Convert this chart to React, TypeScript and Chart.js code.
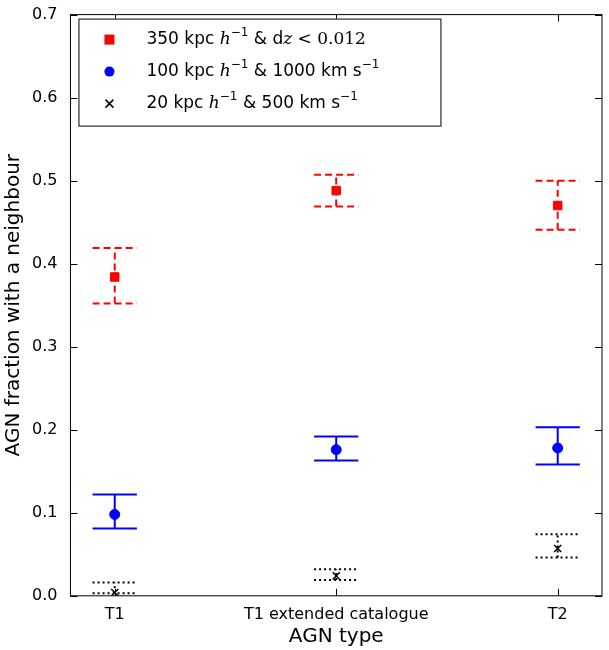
import { useEffect, useRef } from "react"
import { Chart, registerables } from "chart.js"

Chart.register(...registerables)

const categories = ["T1", "T1 extended catalogue", "T2"]
const redY = [0.384, 0.488, 0.47]
const redLo = [0.352, 0.469, 0.441]
const redHi = [0.419, 0.507, 0.5]
const blueY = [0.098, 0.176, 0.178]
const blueLo = [0.081, 0.163, 0.158]
const blueHi = [0.122, 0.192, 0.203]
const blackY = [0.004, 0.024, 0.057]
const blackLo = [0.003, 0.019, 0.046]
const blackHi = [0.016, 0.032, 0.074]
const yTicks = [0, 0.1, 0.2, 0.3, 0.4, 0.5, 0.6, 0.7]

const FONT = "'DejaVu Sans', sans-serif"

type Err = { lo: number[]; hi: number[]; color: string; dash: number[] }
const errs: Err[] = [
  { lo: redLo, hi: redHi, color: "#ff0000", dash: [7, 4] },
  { lo: blueLo, hi: blueHi, color: "#0000ff", dash: [] },
  { lo: blackLo, hi: blackHi, color: "#000000", dash: [2, 3] },
]

const framePlugin = {
  id: "frame",
  beforeDatasetsDraw(chart: any) {
    const { ctx, scales } = chart
    const xs = scales.x
    const ys = scales.y
    ctx.save()
    errs.forEach((e) => {
      ctx.strokeStyle = e.color
      ctx.lineWidth = 2
      ctx.setLineDash(e.dash)
      e.lo.forEach((lo, i) => {
        const x = xs.getPixelForValue(i)
        const y1 = ys.getPixelForValue(lo)
        const y2 = ys.getPixelForValue(e.hi[i])
        const hw = xs.getPixelForValue(i + 0.1) - x
        ctx.beginPath()
        ctx.moveTo(x, y1)
        ctx.lineTo(x, y2)
        ctx.moveTo(x - hw, y1)
        ctx.lineTo(x + hw, y1)
        ctx.moveTo(x - hw, y2)
        ctx.lineTo(x + hw, y2)
        ctx.stroke()
      })
    })
    ctx.restore()
  },
  afterDraw(chart: any) {
    const { ctx, chartArea: a, scales } = chart
    ctx.save()
    ctx.strokeStyle = "#000"
    ctx.lineWidth = 1
    ctx.setLineDash([])
    ctx.strokeRect(a.left, a.top, a.right - a.left, a.bottom - a.top)
    ctx.beginPath()
    yTicks.forEach((t) => {
      const y = Math.round(scales.y.getPixelForValue(t)) + 0.5
      ctx.moveTo(a.left, y)
      ctx.lineTo(a.left + 7, y)
      ctx.moveTo(a.right, y)
      ctx.lineTo(a.right - 7, y)
    })
    categories.forEach((_, i) => {
      const x = Math.round(scales.x.getPixelForValue(i)) + 0.5
      ctx.moveTo(x, a.bottom)
      ctx.lineTo(x, a.bottom - 7)
      ctx.moveTo(x, a.top)
      ctx.lineTo(x, a.top + 7)
    })
    ctx.stroke()

    // legend
    const lx = a.left + 8
    const ly = a.top + 4
    ctx.fillStyle = "#fff"
    ctx.fillRect(lx, ly, 362, 107)
    ctx.strokeRect(lx + 0.5, ly + 0.5, 362, 107)
    const rows = [
      ["350 kpc ", "h", "\u22121", " & d", "z", " < 0.012"],
      ["100 kpc ", "h", "\u22121", " & 1000 km s", "", "\u22121"],
      ["20 kpc ", "h", "\u22121", " & 500 km s", "", "\u22121"],
    ]
    rows.forEach((r, k) => {
      const cy = ly + 21 + k * 32
      const mx = lx + 31
      if (k === 0) {
        ctx.fillStyle = "#ff0000"
        ctx.fillRect(mx - 5, cy - 5, 10, 10)
      } else if (k === 1) {
        ctx.fillStyle = "#0000ff"
        ctx.beginPath()
        ctx.arc(mx, cy, 5, 0, Math.PI * 2)
        ctx.fill()
      } else {
        ctx.strokeStyle = "#000"
        ctx.lineWidth = 1.5
        ctx.beginPath()
        ctx.moveTo(mx - 4, cy - 4)
        ctx.lineTo(mx + 4, cy + 4)
        ctx.moveTo(mx + 4, cy - 4)
        ctx.lineTo(mx - 4, cy + 4)
        ctx.stroke()
      }
      ctx.fillStyle = "#000"
      ctx.textBaseline = "middle"
      let x = lx + 68
      const put = (s: string, f: string, dy = 0) => {
        ctx.font = f
        ctx.fillText(s, x, cy + dy)
        x += ctx.measureText(s).width
      }
      put(r[0], `17px ${FONT}`)
      put(r[1], `italic 17px 'DejaVu Serif', serif`)
      put(r[2], `12px ${FONT}`, -7)
      put(r[3], `17px ${FONT}`)
      if (r[4]) put(r[4], `italic 17px 'DejaVu Serif', serif`)
      if (k === 0) put(r[5], `17px 'DejaVu Serif', serif`)
      else put(r[5], `12px ${FONT}`, -7)
    })
    ctx.restore()
  },
}

export default function App() {
  const ref = useRef<HTMLCanvasElement>(null)

  useEffect(() => {
    document.body.style.margin = "0"
    if (!ref.current) return
    const pts = (ys: number[]) => ys.map((y, i) => ({ x: i, y }))
    const chart = new Chart(ref.current, {
      type: "scatter",
      data: {
        datasets: [
          { data: pts(redY), backgroundColor: "#ff0000", borderColor: "#ff0000", pointStyle: "rect", pointRadius: 6 },
          { data: pts(blueY), backgroundColor: "#0000ff", borderColor: "#0000ff", pointStyle: "circle", pointRadius: 5 },
          { data: pts(blackY), backgroundColor: "#000", borderColor: "#000", pointStyle: "crossRot", pointRadius: 5, borderWidth: 1.5 },
        ],
      },
      options: {
        responsive: false,
        animation: false,
        layout: { padding: { top: 8, right: 5, left: 0, bottom: 0 } },
        plugins: { legend: { display: false }, tooltip: { enabled: false } },
        scales: {
          x: {
            type: "linear",
            min: -0.2,
            max: 2.2,
            grid: { display: false },
            border: { display: false },
            afterBuildTicks: (s: any) => {
              s.ticks = categories.map((_, i) => ({ value: i }))
            },
            ticks: {
              color: "#000",
              font: { family: FONT, size: 16 },
              padding: 1,
              callback: (v: any) => categories[v as number] ?? "",
            },
            title: { display: true, text: "AGN type", color: "#000", font: { family: FONT, size: 20 }, padding: { top: 0, bottom: 1 } },
          },
          y: {
            min: 0,
            max: 0.7,
            grid: { display: false },
            border: { display: false },
            afterBuildTicks: (s: any) => {
              s.ticks = yTicks.map((v) => ({ value: v }))
            },
            ticks: {
              color: "#000",
              font: { family: FONT, size: 16 },
              padding: 5,
              callback: (v: any) => Number(v).toFixed(1),
            },
            title: {
              display: true,
              text: "AGN fraction with a neighbour",
              color: "#000",
              font: { family: FONT, size: 20 },
              padding: { top: 2, bottom: 1 },
            },
          },
        },
      },
      plugins: [framePlugin],
    })
    return () => chart.destroy()
  }, [])

  return <canvas ref={ref} width={609} height={650} style={{ display: "block" }} />
}
